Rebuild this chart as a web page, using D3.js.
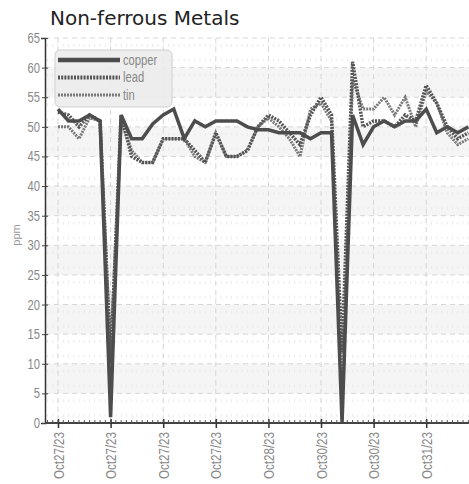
<!DOCTYPE html>
<html>
<head>
<meta charset="utf-8">
<script src="https://cdn.jsdelivr.net/npm/d3@7"></script>
<style>
  body { margin: 0; background: #fff; }
  .graphic { width: 469px; height: 484px; overflow: hidden; }
</style>
</head>
<body>
<div class="graphic"></div>
<script>
// values, one per sample
let copper = [53, 51, 51, 52, 51, 1, 52, 48, 48, 50.5, 52, 53, 48, 51, 50, 51, 51, 51, 50, 49.5,
              49.5, 49, 49, 49, 48, 49, 49, 0, 52, 47, 50, 51, 50, 51, 51, 53, 49, 50, 49, 50];
let lead   = [52.5, 52, 50, 52, 51, 10, 52, 45, 44, 44, 48, 48, 48, 46, 44, 49, 45, 45, 46, 50,
              52, 51, 49, 47, 52, 55, 52, 12, 61, 50, 51, 51, 50, 52, 51, 57, 54, 50, 48, 49];
let tin    = [50, 50, 48, 51.5, 51, 12, 51, 46, 44, 44, 48, 48, 48, 45, 44, 49, 45, 45, 46, 50,
              51.5, 50, 48, 45, 53, 54, 51, 5, 58, 53, 53, 55, 52, 55, 50, 56, 54, 49, 47, 48];
let tickIdx = [0, 5, 10, 15, 20, 25, 30, 35];
let tickLabels = ["Oct27/23", "Oct27/23", "Oct27/23", "Oct27/23", "Oct28/23", "Oct30/23", "Oct30/23", "Oct31/23"];
let yTicks = [0, 5, 10, 15, 20, 25, 30, 35, 40, 45, 50, 55, 60, 65];

let svg = d3.select(".graphic")
            .append("svg")
            .attr("width", 469)
            .attr("height", 484);

let LEFT = 45, RIGHT = 469, TOP = 38, BOTTOM = 423;
let FONT = "'Liberation Sans', Arial, sans-serif";
let SQUEEZE = 0.8;

let x = d3.scaleLinear().domain([0, 39]).range([58, 468.3]);
let y = d3.scaleLinear().domain([0, 65]).range([BOTTOM, TOP]);

// alternating bands
for (let v = 5; v < 65; v += 10) {
    svg.append("rect")
        .attr("x", LEFT).attr("y", y(v + 5))
        .attr("width", RIGHT - LEFT).attr("height", y(v) - y(v + 5))
        .attr("fill", "#f5f5f5");
}

// minor vertical grid
let minor = d3.range(-1, 40, 0.5);
svg.append("g").selectAll("line").data(minor).join("line")
    .attr("x1", d => x(d)).attr("x2", d => x(d))
    .attr("y1", TOP + 6).attr("y2", BOTTOM)
    .attr("stroke", "#ebebeb").attr("stroke-width", 1)
    .attr("stroke-dasharray", "3,11.8");

// major grid
svg.append("g").selectAll("line").data(yTicks.slice(1)).join("line")
    .attr("x1", LEFT).attr("x2", RIGHT)
    .attr("y1", d => y(d)).attr("y2", d => y(d))
    .attr("stroke", "#d6d6d6").attr("stroke-dasharray", "5,4");
svg.append("g").selectAll("line").data(tickIdx).join("line")
    .attr("x1", d => x(d)).attr("x2", d => x(d))
    .attr("y1", TOP).attr("y2", BOTTOM)
    .attr("stroke", "#d6d6d6").attr("stroke-dasharray", "5,4");

// series
let line = d3.line().x((d, i) => x(i)).y(d => y(d));
svg.append("path").datum(tin)
    .attr("d", line).attr("fill", "none")
    .attr("stroke", "#7a7a7a").attr("stroke-width", 3)
    .attr("stroke-dasharray", "2,1");
svg.append("path").datum(lead)
    .attr("d", line).attr("fill", "none")
    .attr("stroke", "#555").attr("stroke-width", 3.5)
    .attr("stroke-dasharray", "2,1.2");
svg.append("path").datum(copper)
    .attr("d", line).attr("fill", "none")
    .attr("stroke", "#4d4d4d").attr("stroke-width", 3.5);

// y axis
let yAxis = svg.append("g").attr("transform", "translate(" + LEFT + ",0)")
    .call(d3.axisLeft(y).tickValues(yTicks).tickSize(4).tickPadding(5));
yAxis.select(".domain").attr("stroke", "#333").attr("stroke-width", 1.5);
yAxis.selectAll(".tick line").attr("x2", 3).attr("x1", -3).attr("stroke", "#444");
yAxis.selectAll(".tick text")
    .attr("font-family", FONT).attr("font-size", 14).attr("fill", "#888")
    .attr("transform", "scale(" + SQUEEZE + ",1)")
    .attr("x", -5 / SQUEEZE);

// x axis
let xAxis = svg.append("g").attr("transform", "translate(0," + BOTTOM + ")")
    .call(d3.axisBottom(x).tickValues(tickIdx).tickFormat((d, i) => tickLabels[i]).tickSize(5).tickSizeOuter(0));
xAxis.select(".domain").attr("d", "M" + LEFT + ",0H" + RIGHT).attr("stroke", "#444").attr("stroke-width", 2);
xAxis.selectAll(".tick line").attr("y1", -4).attr("y2", 5).attr("stroke", "#333").attr("stroke-width", 1.5);
xAxis.selectAll(".tick text")
    .attr("font-family", FONT).attr("font-size", 14.5).attr("fill", "#888")
    .attr("transform", "rotate(-90) scale(" + SQUEEZE + ",1)")
    .attr("text-anchor", "end")
    .attr("x", -9 / SQUEEZE).attr("y", 0).attr("dy", "0.35em");
xAxis.append("g").selectAll("line").data(minor.filter(d => x(d) > LEFT)).join("line")
    .attr("x1", d => x(d)).attr("x2", d => x(d))
    .attr("y1", -3).attr("y2", 0).attr("stroke", "#555");

// titles
svg.append("text").attr("x", 50).attr("y", 25)
    .attr("font-family", "'DejaVu Sans', sans-serif").attr("font-size", 20)
    .attr("fill", "#222").text("Non-ferrous Metals");
svg.append("text").attr("transform", "translate(20,235) rotate(-90)")
    .attr("text-anchor", "middle")
    .attr("font-family", FONT).attr("font-size", 11).attr("fill", "#999").text("ppm");

// legend
let legend = svg.append("g").attr("transform", "translate(55,50)");
legend.append("rect").attr("width", 117).attr("height", 57).attr("rx", 5)
    .attr("fill", "#ececec").attr("fill-opacity", 0.9).attr("stroke", "#d0d0d0");
let legendNames = ["copper", "lead", "tin"];
let legendStyles = [["#4d4d4d", 4.5, null], ["#555", 4, "2,1.2"], ["#7a7a7a", 3, "2,1"]];
legendNames.forEach((name, i) => {
    let ly = 10 + i * 17.5;
    legend.append("line").attr("x1", 3).attr("x2", 65).attr("y1", ly).attr("y2", ly)
        .attr("stroke", legendStyles[i][0]).attr("stroke-width", legendStyles[i][1])
        .attr("stroke-dasharray", legendStyles[i][2]);
    legend.append("text").attr("x", 68 / SQUEEZE).attr("y", ly).attr("dy", "0.35em")
        .attr("transform", "scale(" + SQUEEZE + ",1)")
        .attr("font-family", FONT).attr("font-size", 14).attr("fill", "#888").text(name);
});
</script>
</body>
</html>
